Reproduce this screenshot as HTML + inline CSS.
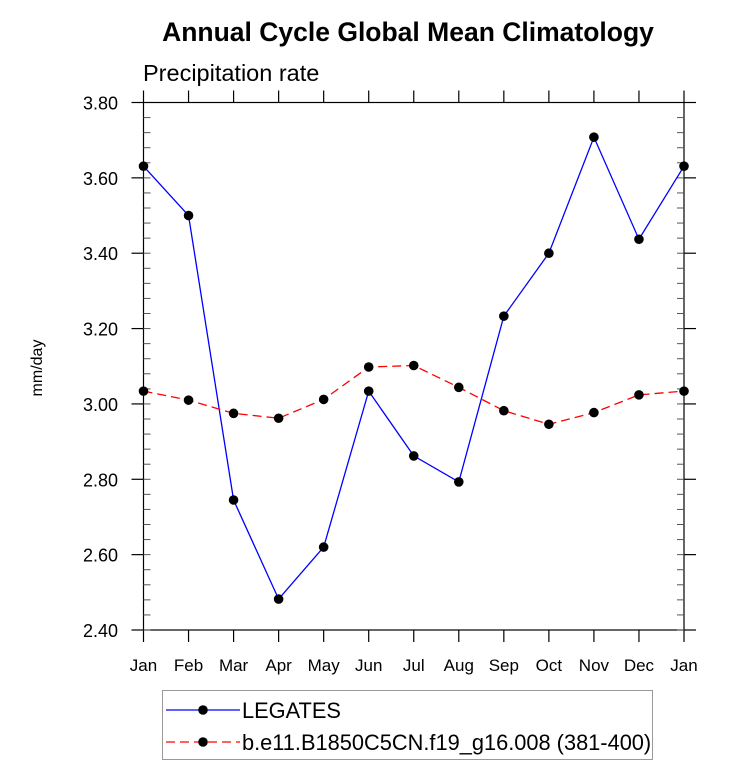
<!DOCTYPE html>
<html><head><meta charset="utf-8"><style>
body{margin:0;background:#fff}
svg{display:block;font-family:"Liberation Sans",Arial,sans-serif}
</style></head><body>
<svg id="chart" width="733" height="782">
<text x="408" y="41" text-anchor="middle" font-size="26.5" font-weight="bold">Annual Cycle Global Mean Climatology</text>
<text x="143" y="81" font-size="23.5">Precipitation rate</text>
<text transform="translate(42,368) rotate(-90)" text-anchor="middle" font-size="16">mm/day</text>
<g id="axes"></g>
<g id="series"></g>
<rect x="162.5" y="690.5" width="490" height="69" fill="none" stroke="#999"/>
<g id="legend"></g>
</svg>
<script>
const months=["Jan","Feb","Mar","Apr","May","Jun","Jul","Aug","Sep","Oct","Nov","Dec","Jan"];
const legates=[3.631,3.50,2.745,2.482,2.62,3.034,2.862,2.793,3.233,3.40,3.708,3.437,3.631];
const model=[3.034,3.01,2.975,2.962,3.012,3.098,3.102,3.044,2.982,2.946,2.977,3.024,3.034];
const yTicks=[2.4,2.6,2.8,3.0,3.2,3.4,3.6,3.8];
const seriesNames=["LEGATES","b.e11.B1850C5CN.f19_g16.008 (381-400)"];
const L=143.5,R=684,T=102.5,B=630,ymin=2.4,ymax=3.8;
const X=i=>L+i*(R-L)/(months.length-1);
const Y=v=>B-(v-ymin)/(ymax-ymin)*(B-T);
const NS="http://www.w3.org/2000/svg";
function mk(t,a,p){const e=document.createElementNS(NS,t);for(const k in a)e.setAttribute(k,a[k]);p.appendChild(e);return e;}
const ax=document.getElementById('axes');
const frame=mk('rect',{x:L,y:T,width:R-L,height:B-T,fill:'none',stroke:'#000','stroke-width':1.2},ax);


months.forEach((m,i)=>{const x=X(i);
mk('line',{x1:x,x2:x,y1:B,y2:B+12,stroke:'#000','stroke-width':1.2},ax);
mk('line',{x1:x,x2:x,y1:T,y2:T-12,stroke:'#000','stroke-width':1.2},ax);
const t=mk('text',{x:x,y:671,'text-anchor':'middle','font-size':17},ax);t.textContent=m;

});
yTicks.forEach(v=>{const y=Y(v);
mk('line',{x1:L-12,x2:L,y1:y,y2:y,stroke:'#000','stroke-width':1.2},ax);
mk('line',{x1:R,x2:R+12,y1:y,y2:y,stroke:'#000','stroke-width':1.2},ax);
const t=mk('text',{x:118,y:y+7,'text-anchor':'end','font-size':18},ax);t.textContent=v.toFixed(2);

});
for(let v=ymin;v<ymax-1e-6;v+=0.04){const y=Y(v);
mk('line',{x1:L,x2:L+7,y1:y,y2:y,stroke:'#555','stroke-width':1},ax);
mk('line',{x1:R-7,x2:R,y1:y,y2:y,stroke:'#555','stroke-width':1},ax);}
const sg=document.getElementById('series');
function draw(vals,color,dash,name){
const p=mk('polyline',{points:vals.map((v,i)=>X(i)+','+Y(v)).join(' '),fill:'none',stroke:color,'stroke-width':1.3,'stroke-dasharray':dash},sg);


vals.forEach((v,i)=>{const c=mk('circle',{cx:X(i),cy:Y(v),r:4.8,fill:'#000'},sg);

});}
draw(legates,'#0000ff','none','legates');
draw(model,'#ff0000','9 5','model');
const lg=document.getElementById('legend');
[[710,'#0000ff','none'],[742,'#ff0000','9 5']].forEach((r,i)=>{
mk('line',{x1:166,x2:240,y1:r[0],y2:r[0],stroke:r[1],'stroke-width':1.3,'stroke-dasharray':r[2]},lg);
mk('circle',{cx:203,cy:r[0],r:4.8,fill:'#000'},lg);
const t=mk('text',{x:242,y:r[0]+8,'font-size':21.8},lg);t.textContent=seriesNames[i];

});
</script>
</body></html>
